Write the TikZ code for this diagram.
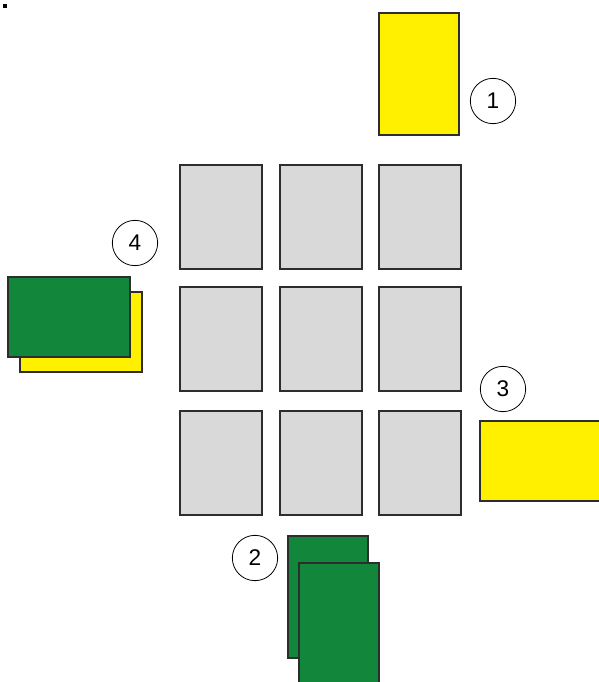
\documentclass[tikz,border=0pt]{standalone}
\usepackage{fontspec}
\setmainfont{Liberation Sans}
\usepackage{tikz}

\definecolor{cardyellow}{RGB}{255,240,0}
\definecolor{cardgreen}{RGB}{18,134,58}
\definecolor{cardgray}{RGB}{217,217,217}
\definecolor{cardedge}{RGB}{45,45,45}

\tikzset{
  card/.style={draw=cardedge, line width=1.6pt, inner sep=0pt},
  tall/.style={card, minimum width=60pt, minimum height=91pt},
  wide/.style={card, minimum width=91pt, minimum height=60pt},
  slot/.style={card, fill=cardgray, minimum width=62pt, minimum height=78pt},
  seat/.style={draw=black, line width=0.6pt, circle, inner sep=0pt,
    minimum size=34pt, font=\fontsize{17}{17}\selectfont}
}

\begin{document}
\begin{tikzpicture}[x=0.75pt, y=-0.75pt]
  \clip (0,0) rectangle (599,682);
  \fill[white] (0,0) rectangle (599,682);
  \node[fill=black, inner sep=0pt, minimum size=2.5pt] (speck) at (5,6) {};
  \foreach \c/\x in {1/221, 2/321, 3/420}
    \foreach \r/\y in {1/217, 2/339, 3/463}
      \node[slot] (s\r\c) at (\x,\y) {};
  \node[tall, fill=cardyellow] (h1) at (419,74) {};
  \node[wide, fill=cardyellow] (h4b) at (81,332) {};
  \node[wide, fill=cardgreen] (h4) at (69,317) {};
  \node[wide, fill=cardyellow] (h3) at (541,461) {};
  \node[tall, fill=cardgreen] (h2b) at (328,597) {};
  \node[tall, fill=cardgreen] (h2) at (339,624) {};
  \node[seat] (p1) at (493,101) {1};
  \node[seat] (p2) at (255,558) {2};
  \node[seat] (p3) at (503,389) {3};
  \node[seat] (p4) at (135,243) {4};
\end{tikzpicture}
\end{document}
